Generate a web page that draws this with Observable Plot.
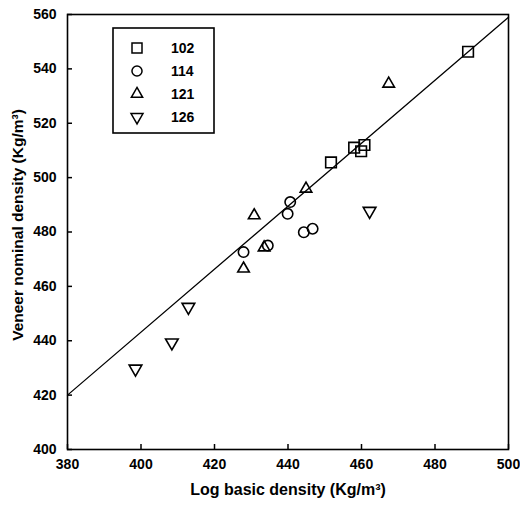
<!DOCTYPE html>
<html><head><meta charset="utf-8">
<script src="https://cdn.jsdelivr.net/npm/d3@7"></script>
<script src="https://cdn.jsdelivr.net/npm/@observablehq/plot@0.6"></script>
<style>
body{margin:0;background:#fff;}
#chart{position:relative;width:520px;height:508px;}
#legend{position:absolute;left:0;top:0;}
</style></head><body><div id="chart"></div>
<script>
// Series data
const s102x = [489.0, 451.7, 458.0, 459.9, 460.8];
const s102y = [546.3, 505.6, 511.0, 509.7, 512.0];
const s114x = [440.6, 439.9, 444.3, 446.7, 434.5, 427.9];
const s114y = [491.0, 486.7, 479.9, 481.2, 475.0, 472.6];
const s121x = [467.4, 444.9, 430.8, 433.5, 427.9];
const s121y = [534.5, 495.9, 486.1, 474.3, 466.5];
const s126x = [462.2, 412.9, 408.4, 398.5];
const s126y = [487.7, 452.4, 439.3, 429.7];
const fitX = [380, 500];
const fitY = [420, 559];
const xTicks = [380, 400, 420, 440, 460, 480, 500];
const yTicks = [400, 420, 440, 460, 480, 500, 520, 540, 560];
const seriesNames = ["102", "114", "121", "126"];
const xLabel = "Log basic density (Kg/m³)";
const yLabel = "Veneer nominal density (Kg/m³)";

const toPts = (xs, ys) => xs.map((x, i) => ({x, y: ys[i]}));
const fitPts = toPts(fitX, fitY);

const triangleDown = {
  draw(context, size) {
    const y = Math.sqrt(size / (Math.sqrt(3) * 3));
    context.moveTo(0, y * 2);
    context.lineTo(-Math.sqrt(3) * y, -y);
    context.lineTo(Math.sqrt(3) * y, -y);
    context.closePath();
  }
};

const dotStyle = {x: "x", y: "y", stroke: "black", fill: "none", strokeWidth: 1.6};

const chart = Plot.plot({
  width: 520,
  height: 508,
  marginLeft: 67,
  marginRight: 12,
  marginTop: 14,
  marginBottom: 59,
  x: {domain: [380, 500]},
  y: {domain: [400, 560]},
  style: {fontFamily: "Arial, 'Liberation Sans', sans-serif", fontSize: "14px", color: "black", background: "white"},
  marks: [
    Plot.frame({stroke: "black", strokeWidth: 1.6}),
    Plot.tickX(xTicks, {x: d => d, insetTop: 430, stroke: "black", strokeWidth: 1.5}),
    Plot.tickY(yTicks, {y: d => d, insetRight: 436, stroke: "black", strokeWidth: 1.5}),
    Plot.axisX(xTicks, {tickSize: 0, tickPadding: 10, label: null, fontWeight: "bold", fontSize: 14}),
    Plot.axisY(yTicks, {tickSize: 0, tickPadding: 11, label: null, fontWeight: "bold", fontSize: 14}),
    Plot.line(fitPts, {x: "x", y: "y", stroke: "black", strokeWidth: 1.3}),
    Plot.dot(toPts(s102x, s102y), {...dotStyle, symbol: "square", r: 6}),
    Plot.dot(toPts(s114x, s114y), {...dotStyle, symbol: "circle", r: 5.2}),
    Plot.dot(toPts(s121x, s121y), {...dotStyle, symbol: "triangle", r: 4.3}),
    Plot.dot(toPts(s126x, s126y), {...dotStyle, symbol: triangleDown, r: 4.7}),
    Plot.text([xLabel], {frameAnchor: "bottom", textAnchor: "middle", lineAnchor: "middle", dy: 40, fontWeight: "bold", fontSize: 16}),
    Plot.text([yLabel], {frameAnchor: "left", textAnchor: "middle", lineAnchor: "middle", rotate: -90, dx: -49.5, dy: -7, fontWeight: "bold", fontSize: 15.5})
  ]
});
document.getElementById("chart").appendChild(chart);

// Legend box
const legendSymbols = [d3.symbolSquare, d3.symbolCircle, d3.symbolTriangle, triangleDown];
const legendSizes = [100, 80, 55, 62];
const lg = d3.select("#chart").append("svg").attr("id", "legend")
  .attr("width", 520).attr("height", 508)
  .style("font-family", "Arial, 'Liberation Sans', sans-serif")
  .style("font-size", "14px").style("font-weight", "bold");
lg.append("rect").attr("x", 113).attr("y", 28).attr("width", 101).attr("height", 105)
  .attr("fill", "white").attr("stroke", "black").attr("stroke-width", 1.6);
const rowY = d3.scaleLinear().domain([0, 3]).range([48, 117]);
seriesNames.forEach((name, i) => {
  lg.append("path")
    .attr("transform", `translate(137,${rowY(i)})`)
    .attr("d", d3.symbol(legendSymbols[i], legendSizes[i])())
    .attr("fill", "none").attr("stroke", "black").attr("stroke-width", 1.5);
  lg.append("text").attr("x", 171).attr("y", rowY(i)).attr("dy", "0.35em").text(name);
});
</script></body></html>
